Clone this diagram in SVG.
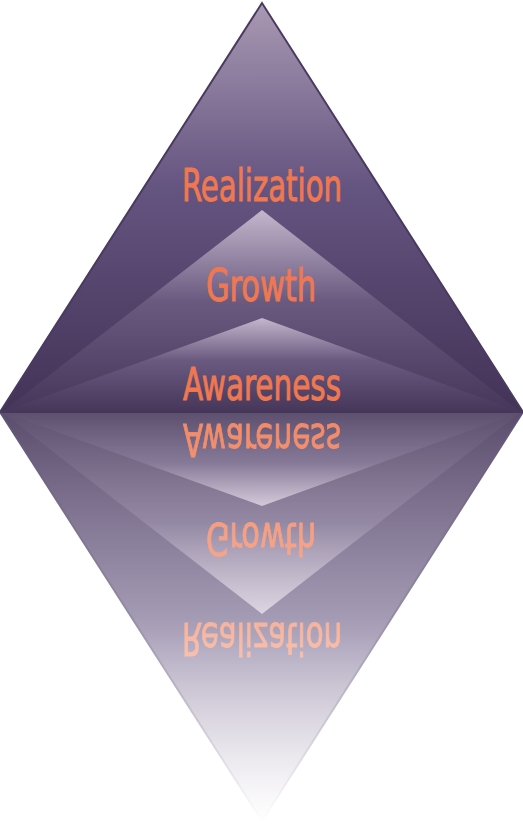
<svg xmlns="http://www.w3.org/2000/svg" xmlns:xlink="http://www.w3.org/1999/xlink" width="523" height="826" viewBox="0 0 523 826">
  <defs>
    <linearGradient id="gOuter" x1="0" y1="0" x2="0" y2="1">
      <stop offset="0" stop-color="#a999b3"/>
      <stop offset="0.45" stop-color="#645480"/>
      <stop offset="1" stop-color="#433357"/>
    </linearGradient>
    <linearGradient id="gInner" x1="0" y1="0" x2="0" y2="1">
      <stop offset="0" stop-color="#c4b6cc"/>
      <stop offset="0.45" stop-color="#6a5a80"/>
      <stop offset="1" stop-color="#463659"/>
    </linearGradient>
    <linearGradient id="gFade" gradientUnits="userSpaceOnUse" x1="0" y1="412" x2="0" y2="822">
      <stop offset="0" stop-color="#fff" stop-opacity="0.88"/>
      <stop offset="0.5" stop-color="#fff" stop-opacity="0.58"/>
      <stop offset="1" stop-color="#fff" stop-opacity="0"/>
    </linearGradient>
    <mask id="fadeMask" maskUnits="userSpaceOnUse" x="0" y="410" width="523" height="416">
      <rect x="0" y="412" width="523" height="414" fill="url(#gFade)"/>
    </mask>
    <style>
      .lbl { font-family: "DejaVu Sans", "Liberation Sans", sans-serif; font-stretch: condensed; font-size: 44px; fill: #f07850; stroke: #f07850; stroke-width: 0.9; text-anchor: middle; }
      .outer { fill: url(#gOuter); stroke: #4a3a60; stroke-width: 2; stroke-linejoin: miter; }
      .inner { fill: url(#gInner); }
    </style>
    <g id="pyramid">
      <g id="layer-realization">
        <polygon class="outer" points="262,3 0,412 523,412"/>
        <text class="lbl" x="262" y="201" textLength="160" lengthAdjust="spacingAndGlyphs">Realization</text>
      </g>
      <g id="layer-growth">
        <polygon class="inner" points="262,210 2,412 521,412"/>
        <text class="lbl" x="261" y="301" textLength="110" lengthAdjust="spacingAndGlyphs">Growth</text>
      </g>
      <g id="layer-awareness">
        <polygon class="inner" points="262,318 2,412 521,412"/>
        <text class="lbl" x="262" y="400" textLength="158" lengthAdjust="spacingAndGlyphs">Awareness</text>
      </g>
    </g>
  </defs>
  <rect width="523" height="826" fill="#ffffff"/>
  <use xlink:href="#pyramid" href="#pyramid"/>
  <g id="reflection" mask="url(#fadeMask)">
    <use xlink:href="#pyramid" href="#pyramid" transform="translate(0,824) scale(1,-1)"/>
  </g>
</svg>
